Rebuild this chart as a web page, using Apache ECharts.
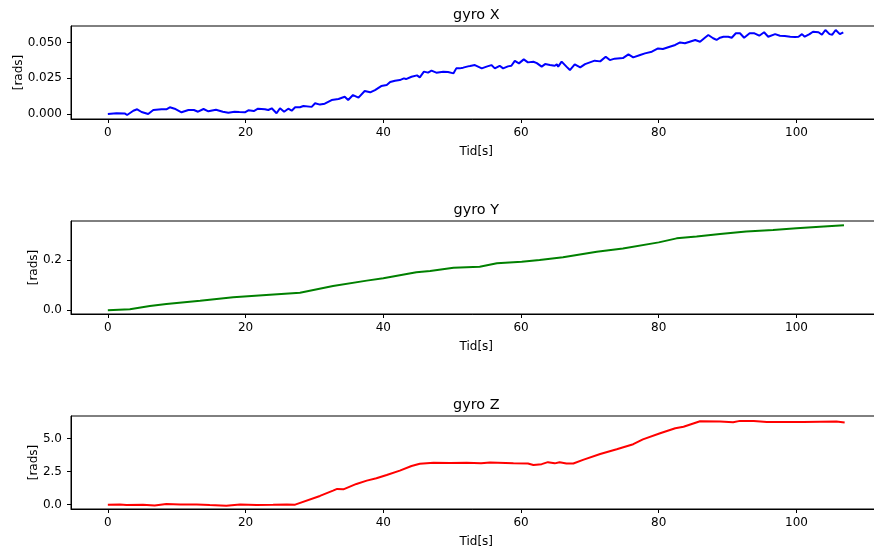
<!DOCTYPE html>
<html>
<head>
<meta charset="utf-8">
<title>gyro X / Y / Z</title>
<script src="https://cdn.jsdelivr.net/npm/echarts@6/dist/echarts.min.js"></script>
<style>
  html, body { margin: 0; padding: 0; background: #ffffff; }
  #chart { width: 874px; height: 550px; }
</style>
</head>
<body>
<div id="chart"></div>
<script>
// Gyro X: angle [rads] versus time [s]
const xTime = [0, 1.26, 2.5, 2.8, 3.7, 4.26, 4.9, 5.86, 6.6, 7.8, 8.5, 9.0, 9.7, 10.7, 11.7, 12.5, 13.1, 13.9, 14.6, 15.7,
  16.7, 17.5, 18.4, 19.1, 19.9, 20.4, 21.2, 21.8, 22.8, 23.3, 23.8, 24.5, 25.0, 25.6, 26.2, 26.7, 27.2, 27.9, 28.4, 29.6,
  30.1, 30.8, 31.5, 32.5, 33.5, 34.4, 34.9, 35.6, 36.4, 37.3, 38.1, 38.8, 39.7, 40.5, 41.0, 41.7, 42.4, 43.0, 43.3, 44.1,
  44.9, 45.3, 45.9, 46.5, 47.0, 47.7, 48.7, 49.4, 50.2, 50.6, 51.1, 51.6, 52.3, 52.6, 53.3, 54.3, 55.0, 55.7, 56.2, 56.9,
  57.4, 58.1, 58.6, 59.1, 59.7, 60.4, 61.0, 61.8, 62.3, 63.0, 63.5, 64.2, 64.9, 65.2, 65.4, 65.9, 66.6, 67.1, 67.8, 68.6,
  69.3, 70.0, 70.7, 71.5, 72.3, 72.9, 73.6, 74.8, 75.6, 76.3, 77.3, 78.0, 79.0, 79.9, 80.6, 81.6, 82.4, 83.1, 83.8, 84.5,
  85.3, 86.0, 86.7, 87.2, 87.9, 88.4, 88.9, 89.4, 90.1, 90.6, 91.2, 91.8, 92.4, 93.2, 93.9, 94.6, 95.3, 95.9, 96.9, 97.6,
  98.3, 99.1, 99.8, 100.3, 100.8, 101.2, 101.9, 102.4, 103.2, 103.7, 104.2, 104.8, 105.2, 105.7, 106.3, 106.8];
const xVals = [0, 0.0005, 0.0003, -0.0007, 0.0023, 0.0033, 0.0014, 0.0000, 0.0028, 0.0033, 0.0033, 0.0047, 0.0037, 0.0012, 0.0028, 0.0028, 0.0016, 0.0035, 0.0019, 0.0030,
  0.0016, 0.0009, 0.0016, 0.0014, 0.0012, 0.0026, 0.0021, 0.0037, 0.0033, 0.0028, 0.0040, 0.0005, 0.0040, 0.0016, 0.0037, 0.0023, 0.0047, 0.0047, 0.0056, 0.0050,
  0.0075, 0.0066, 0.0072, 0.0098, 0.0105, 0.0121, 0.0098, 0.0133, 0.0115, 0.0161, 0.0152, 0.0168, 0.0196, 0.0203, 0.0224, 0.0233, 0.0238, 0.0250, 0.0245, 0.0261,
  0.0271, 0.0257, 0.0297, 0.0290, 0.0304, 0.0290, 0.0297, 0.0294, 0.0285, 0.0320, 0.0320, 0.0325, 0.0334, 0.0336, 0.0343, 0.0320, 0.0332, 0.0343, 0.0320, 0.0338,
  0.0320, 0.0334, 0.0338, 0.0372, 0.0355, 0.0383, 0.0362, 0.0366, 0.0357, 0.0332, 0.0350, 0.0343, 0.0338, 0.0348, 0.0332, 0.0367, 0.0332, 0.0308, 0.0348, 0.0327,
  0.0350, 0.0362, 0.0374, 0.0369, 0.0402, 0.0378, 0.0388, 0.0392, 0.0418, 0.0397, 0.0414, 0.0425, 0.0437, 0.0460, 0.0456, 0.0472, 0.0484, 0.0502, 0.0496, 0.0507,
  0.0519, 0.0507, 0.0535, 0.0554, 0.0531, 0.0519, 0.0535, 0.0542, 0.0542, 0.0535, 0.0566, 0.0566, 0.0535, 0.0566, 0.0566, 0.0549, 0.0573, 0.0542, 0.0560, 0.0549,
  0.0547, 0.0542, 0.0540, 0.0542, 0.0560, 0.0542, 0.0560, 0.0577, 0.0573, 0.0556, 0.0589, 0.0560, 0.0556, 0.0589, 0.0560, 0.0573];

// Gyro Y
const yTime = [0, 3.2, 6.1, 8.5, 13.4, 18.2, 23.0, 27.9, 32.7, 37.6, 40.0, 44.8, 46.8, 50.2, 54.0, 56.5, 60.1, 62.7, 66.1, 71.0,
  74.8, 80.0, 82.6, 85.5, 88.9, 92.7, 96.6, 100.0, 103.4, 106.9];
const yVals = [0, 0.004, 0.017, 0.025, 0.038, 0.052, 0.061, 0.070, 0.097, 0.118, 0.127, 0.151, 0.156, 0.169, 0.173, 0.187, 0.193, 0.200, 0.211, 0.233,
  0.246, 0.270, 0.286, 0.293, 0.303, 0.313, 0.319, 0.326, 0.332, 0.338];

// Gyro Z
const zTime = [0, 1.74, 2.7, 5.1, 6.8, 8.5, 10.5, 12.9, 14.8, 17.2, 19.2, 21.6, 24.0, 26.0, 27.2, 30.8, 32.7, 33.3, 34.2, 36.1,
  37.6, 39.0, 40.5, 42.4, 44.1, 45.3, 47.3, 49.7, 52.1, 54.2, 55.5, 58.9, 61.0, 61.8, 63.0, 63.9, 64.9, 65.6, 66.6, 67.6,
  69.0, 71.5, 73.9, 76.3, 77.7, 80.2, 82.4, 83.6, 86.0, 88.9, 90.8, 91.8, 93.8, 95.7, 101.0, 105.8, 107.0];
const zVals = [0, 0.02, -0.03, 0.0, -0.06, 0.05, 0.01, 0.02, -0.03, -0.08, 0.02, -0.02, -0.01, 0.02, 0.0, 0.66, 1.06, 1.19, 1.16, 1.57,
  1.82, 2.00, 2.25, 2.58, 2.93, 3.10, 3.18, 3.16, 3.18, 3.13, 3.20, 3.13, 3.12, 3.00, 3.07, 3.22, 3.13, 3.22, 3.12, 3.12,
  3.39, 3.84, 4.20, 4.58, 4.95, 5.41, 5.79, 5.91, 6.32, 6.31, 6.24, 6.35, 6.34, 6.26, 6.27, 6.31, 6.23];

const panelTitles = ['gyro X', 'gyro Y', 'gyro Z'];
const xTicks = [0, 20, 40, 60, 80, 100];
const yTicksX = [0, 0.025, 0.05];
const yTicksY = [0, 0.2];
const yTicksZ = [0, 2.5, 5.0];

const FONT = 'DejaVu Sans';
const pair = (t, v) => t.map((x, i) => [x, v[i]]);

const panels = [
  { top: 26, data: pair(xTime, xVals), color: '#0000ff', min: -0.0035, max: 0.0617, ticks: yTicksX, digits: 3, nameGap: 46 },
  { top: 221, data: pair(yTime, yVals), color: '#008000', min: -0.0147, max: 0.355, ticks: yTicksY, digits: 1, nameGap: 31 },
  { top: 416, data: pair(zTime, zVals), color: '#ff0000', min: -0.33, max: 6.72, ticks: yTicksZ, digits: 1, nameGap: 31 }
];

const GRID_LEFT = 71, GRID_W = 810.5, GRID_H = 93;

const chart = echarts.init(document.getElementById('chart'), null, { renderer: 'canvas' });

chart.setOption({
  animation: false,
  backgroundColor: '#ffffff',
  title: panels.map((p, i) => ({
    text: panelTitles[i],
    left: GRID_LEFT + GRID_W / 2,
    top: p.top - 18,
    textAlign: 'center',
    textStyle: { fontFamily: FONT, fontSize: 14.4, fontWeight: 'normal', color: '#000' },
    padding: 0
  })),
  grid: panels.map(p => ({
    left: GRID_LEFT, top: p.top, width: GRID_W, height: GRID_H,
    outerBoundsMode: 'none', containLabel: false,
    show: true, borderColor: '#000', borderWidth: 1, backgroundColor: 'transparent'
  })),
  xAxis: panels.map((p, i) => ({
    type: 'value', gridIndex: i, min: -5.35, max: 112.35,
    name: 'Tid[s]', nameLocation: 'middle', nameGap: 27, nameMoveOverlap: false,
    nameTextStyle: { fontFamily: FONT, fontSize: 12, color: '#000' },
    axisLine: { show: true, onZero: false, lineStyle: { color: '#000', width: 1 } },
    axisTick: { show: true, inside: false, length: 4, customValues: xTicks, lineStyle: { color: '#000', width: 1 } },
    axisLabel: { customValues: xTicks, margin: 8, fontFamily: FONT, fontSize: 12, color: '#000' },
    splitLine: { show: false }
  })),
  yAxis: panels.map((p, i) => ({
    type: 'value', gridIndex: i, min: p.min, max: p.max,
    name: '[rads]', nameLocation: 'middle', nameGap: p.nameGap, nameRotate: 90, nameMoveOverlap: false,
    nameTextStyle: { fontFamily: FONT, fontSize: 12, color: '#000' },
    axisLine: { show: true, onZero: false, lineStyle: { color: '#000', width: 1 } },
    axisTick: { show: true, inside: false, length: 4, customValues: p.ticks, lineStyle: { color: '#000', width: 1 } },
    axisLabel: {
      customValues: p.ticks, margin: 9, fontFamily: FONT, fontSize: 12, color: '#000',
      formatter: v => Number(v).toFixed(p.digits)
    },
    splitLine: { show: false }
  })),
  series: panels.map((p, i) => ({
    type: 'line', xAxisIndex: i, yAxisIndex: i,
    data: p.data, showSymbol: false, symbol: 'none',
    lineStyle: { color: p.color, width: 2 },
    itemStyle: { color: p.color }
  }))
});
</script>
</body>
</html>
